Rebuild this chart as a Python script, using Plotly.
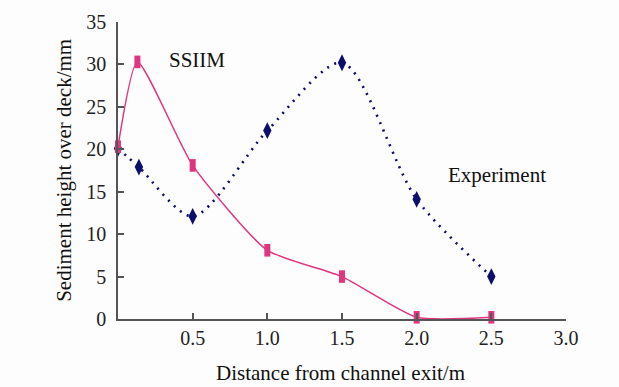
import plotly.graph_objects as go

# Distance from channel exit (m) and sediment height over deck (mm)
ssiim_x = [0.0, 0.13, 0.5, 1.0, 1.5, 2.0, 2.5]
ssiim_y = [20.3, 30.3, 18.1, 8.1, 5.0, 0.2, 0.2]

exp_x = [0.0, 0.14, 0.5, 1.0, 1.5, 2.0, 2.5]
exp_y = [20.1, 17.9, 12.1, 22.2, 30.2, 14.1, 5.0]

x_ticks = [0.5, 1.0, 1.5, 2.0, 2.5, 3.0]
x_tick_text = ["0.5", "1.0", "1.5", "2.0", "2.5", "3.0"]
y_ticks = [0, 5, 10, 15, 20, 25, 30, 35]

FONT = "Liberation Serif, Times New Roman, serif"
PINK = "#e0357f"
NAVY = "#0d0d6b"

fig = go.Figure()

fig.add_trace(go.Scatter(
    x=exp_x, y=exp_y, mode="lines+markers", name="Experiment",
    line=dict(color=NAVY, width=2.6, dash="2px,6px", shape="spline", smoothing=0.8),
    marker=dict(symbol="diamond-tall", size=12, color=NAVY),
    cliponaxis=False,
))

fig.add_trace(go.Scatter(
    x=ssiim_x, y=ssiim_y, mode="lines+markers", name="SSIIM",
    line=dict(color=PINK, width=1.5, shape="spline", smoothing=0.55),
    marker=dict(symbol="line-ns", size=9, color=PINK,
                line=dict(color=PINK, width=6)),
    cliponaxis=False,
))

# Series labels inside the plot
fig.add_annotation(x=0.53, y=30.5, text="SSIIM", showarrow=False,
                   font=dict(family=FONT, size=21, color="#111"))
fig.add_annotation(x=2.535, y=17.0, text="Experiment", showarrow=False,
                   font=dict(family=FONT, size=21, color="#111"))

# Axis titles
fig.add_annotation(xref="paper", yref="paper", x=0.497, y=-0.182,
                   text="Distance from channel exit/m", showarrow=False,
                   xanchor="center", yanchor="middle",
                   font=dict(family=FONT, size=21, color="#111"))
fig.add_annotation(xref="paper", yref="paper", x=-0.122, y=0.5,
                   text="Sediment height over deck/mm", showarrow=False,
                   textangle=-90, xanchor="center", yanchor="middle",
                   font=dict(family=FONT, size=21, color="#111"))

axis_common = dict(
    showgrid=False, zeroline=False, showline=True, linecolor="#555",
    linewidth=1.5, ticks="inside", ticklen=6, tickcolor="#555", tickwidth=1.5,
    tickfont=dict(family=FONT, size=20, color="#222"), automargin=False,
)

fig.update_layout(
    width=619, height=387,
    margin=dict(l=118, r=53, t=22, b=68),
    paper_bgcolor="#fdfdfd", plot_bgcolor="#fdfdfd",
    showlegend=False,
    xaxis=dict(range=[0, 3], tickvals=x_ticks, ticktext=x_tick_text,
               ticklabelstandoff=0, **axis_common),
    yaxis=dict(range=[0, 35], tickvals=y_ticks, ticklabelstandoff=6,
               **axis_common),
)

fig.write_html("out.html")
